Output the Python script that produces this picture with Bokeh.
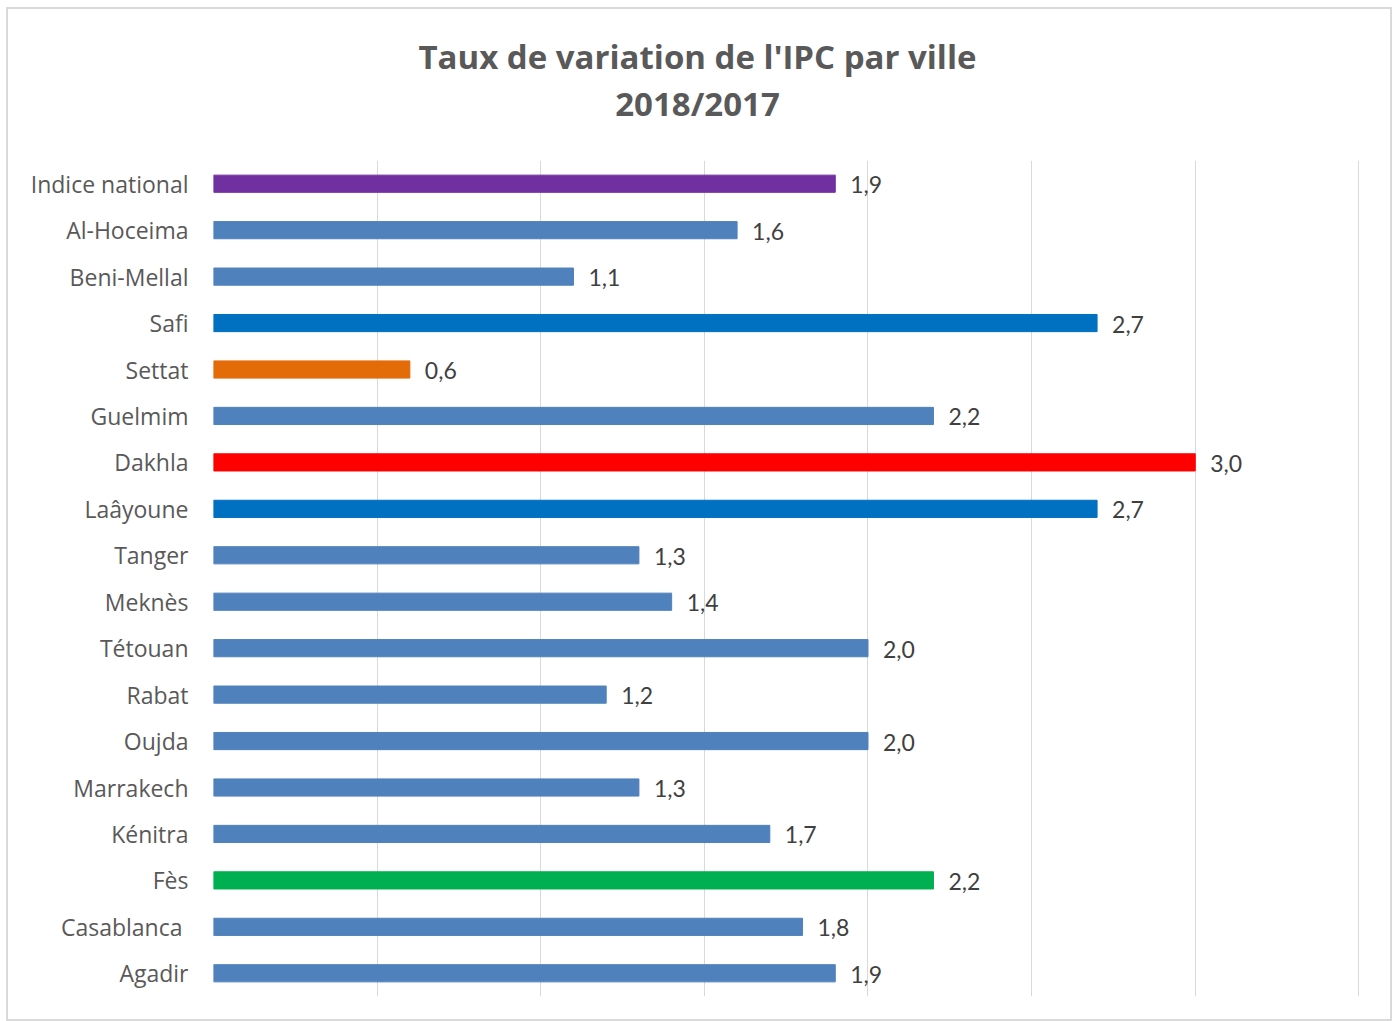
from bokeh.plotting import figure
from bokeh.models import ColumnDataSource, FixedTicker, Label, LabelSet
from bokeh.layouts import column
from bokeh.embed import file_html
from bokeh.resources import INLINE
from bokeh.core.properties import value

cities = ["Indice national", "Al-Hoceima", "Beni-Mellal", "Safi", "Settat", "Guelmim",
          "Dakhla", "Laâyoune", "Tanger", "Meknès", "Tétouan", "Rabat", "Oujda",
          "Marrakech", "Kénitra", "Fès", "Casablanca ", "Agadir"]
rates = [1.9, 1.6, 1.1, 2.7, 0.6, 2.2, 3.0, 2.7, 1.3, 1.4, 2.0, 1.2, 2.0, 1.3, 1.7, 2.2, 1.8, 1.9]
bar_colors = ["#7030A0", "#4F81BD", "#4F81BD", "#0070C0", "#E36C09", "#4F81BD",
              "#FF0000", "#0070C0", "#4F81BD", "#4F81BD", "#4F81BD", "#4F81BD", "#4F81BD",
              "#4F81BD", "#4F81BD", "#00B050", "#4F81BD", "#4F81BD"]
grid_ticks = [0, 0.5, 1.0, 1.5, 2.0, 2.5, 3.0, 3.5]
title_lines = ["Taux de variation de l'IPC par ville", "2018/2017"]

labels = [f"{v:.1f}".replace(".", ",") for v in rates]
src = ColumnDataSource(dict(city=cities, rate=rates, color=bar_colors, label=labels))

# ---- header with the two title lines (its frame is aligned with the chart's frame) ----
head = figure(width=1382, height=151, output_backend="svg", toolbar_location=None,
              x_axis_type=None, y_axis_type=None, min_border=0,
              x_range=(0, 1), y_range=(0, 1))
head.outline_line_color = None
head.xgrid.visible = False
head.ygrid.visible = False
for t, yy in zip(title_lines, [104, 57]):
    head.add_layout(Label(x=484, y=yy, x_units="screen", y_units="screen", text=t,
                          text_align="center", text_baseline="middle",
                          text_font="Open Sans", text_font_style="bold",
                          text_font_size="33px", text_color="#595959"))

# ---- bar chart ----
p = figure(width=1382, height=859, output_backend="svg", toolbar_location=None,
           y_range=list(reversed(cities)), x_range=(0, 3.505),
           min_border_left=205, min_border_right=30, min_border_top=0, min_border_bottom=23)
p.outline_line_color = None
p.background_fill_color = "white"
p.border_fill_color = "white"

p.hbar(y="city", right="rate", left=0, height=0.37, color="color", source=src)

p.add_layout(LabelSet(x="rate", y="city", text="label", source=src, x_offset=15, y_offset=-1,
                      text_baseline="middle", text_font=value("Lato"),
                      text_font_size="23px", text_color="#404040"))

p.xaxis.visible = False
p.xaxis.ticker = FixedTicker(ticks=grid_ticks)
p.xgrid.ticker = FixedTicker(ticks=grid_ticks)
p.xgrid.grid_line_color = "#d9d9d9"
p.xgrid.grid_line_width = 1
p.ygrid.grid_line_color = None

ax = p.yaxis[0]
ax.axis_line_color = None
ax.major_tick_line_color = None
ax.minor_tick_line_color = None
ax.major_label_standoff = 19
ax.major_label_text_font = "Open Sans"
ax.major_label_text_font_size = "23px"
ax.major_label_text_color = "#595959"

layout = column(head, p, spacing=0)
layout.styles = {"border": "2px solid #d9d9d9", "margin-left": "6px", "margin-top": "7px",
                 "background-color": "white"}

open("out.html", "w").write(file_html(layout, INLINE))
